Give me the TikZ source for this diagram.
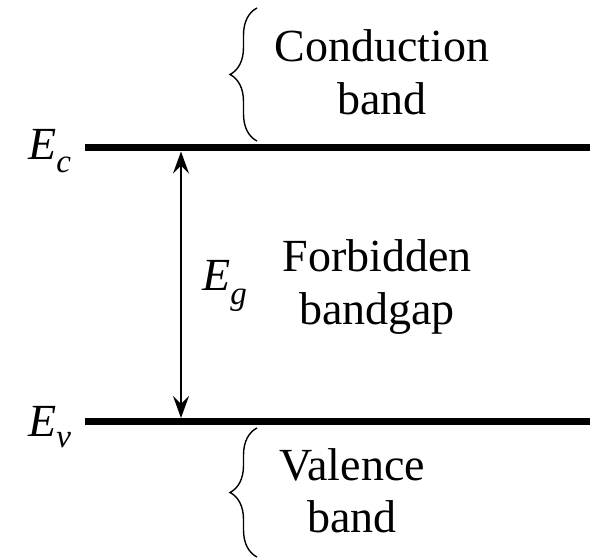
\documentclass[tikz,border=0pt]{standalone}
\usepackage{fontspec}
\setmainfont{Liberation Serif}
\usetikzlibrary{arrows.meta,decorations.pathreplacing}
\begin{document}
\begin{tikzpicture}[x=1pt,y=1pt,
  level/.style={line width=7pt},
  lbl/.style={font=\fontsize{46}{53}\selectfont, align=center, inner sep=0pt, anchor=base},
  elbl/.style={font=\fontsize{46}{46}\selectfont\itshape, inner sep=0pt, anchor=base west},
  brc/.style={decorate, decoration={brace, amplitude=27pt}, line width=1.4pt},
  gap/.style={{Stealth[length=22pt,width=16pt,inset=8pt]}-{Stealth[length=22pt,width=16pt,inset=8pt]}, line width=1.4pt}]
\useasboundingbox (0,0) rectangle (603,560);
% energy levels
\coordinate (cL) at (85,412);
\coordinate (cR) at (590,412);
\coordinate (vL) at (85,138.5);
\coordinate (vR) at (590,138.5);
\draw[level] (cL) -- (cR);
\draw[level] (vL) -- (vR);
% gap arrow
\coordinate (gT) at (181,408.5);
\coordinate (gB) at (181,142);
\draw[gap] (gB) -- (gT);
% braces
\coordinate (b1a) at (257,419);
\coordinate (b1b) at (257,552);
\coordinate (b2a) at (257,3);
\coordinate (b2b) at (257,132);
\draw[brc] (b1a) -- (b1b);
\draw[brc] (b2a) -- (b2b);
% labels
\node[elbl] (Ec) at (28,400) {E\raisebox{-13pt}{\fontsize{33}{33}\selectfont c}};
\node[elbl] (Ev) at (28,123) {E\raisebox{-11pt}{\fontsize{33}{33}\selectfont v}};
\node[elbl] (Eg) at (202,269) {E\raisebox{-14pt}{\fontsize{33}{33}\selectfont g}};
\node[lbl] (cb) at (382,445) {Conduction\\band};
\node[lbl] (fb) at (377,235) {Forbidden\\bandgap};
\node[lbl] (vb) at (352,27) {Valence\\band};
\end{tikzpicture}
\end{document}
